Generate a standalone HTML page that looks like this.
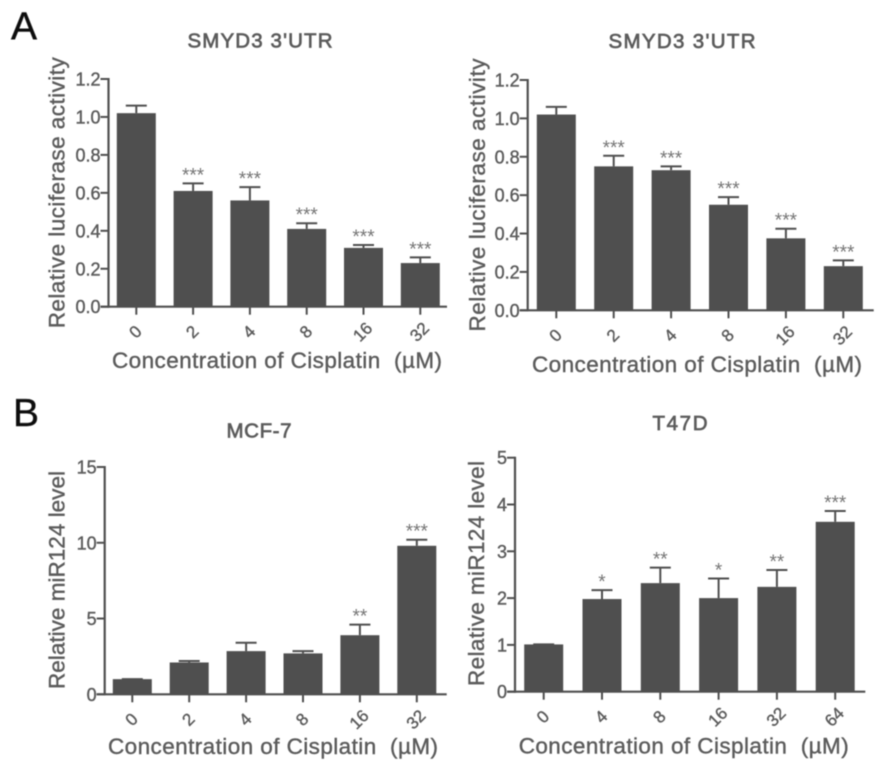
<!DOCTYPE html>
<html>
<head>
<meta charset="utf-8">
<title>Cisplatin bar charts</title>
<style>
html,body{margin:0;padding:0;background:#fff;width:886px;height:772px;overflow:hidden}
svg{display:block}
text{font-family:"Liberation Sans",sans-serif;fill:#5c5c5c;stroke:#5c5c5c;stroke-width:0.4px;white-space:pre}
</style>
</head>
<body>
<svg id="figure" width="886" height="772" viewBox="0 0 886 772" xmlns="http://www.w3.org/2000/svg">
<defs><filter id="soft" x="-5%" y="-5%" width="110%" height="110%"><feGaussianBlur stdDeviation="0.55"/></filter></defs>
<g id="root" filter="url(#soft)"></g>
</svg>
<script>
// Panel A, left
var a1Categories = ['0','2','4','8','16','32'];
var a1Values = [1.02,0.61,0.56,0.41,0.31,0.23];
var a1ErrorTops = [1.06,0.65,0.63,0.44,0.325,0.26];
var a1Stars = ['','***','***','***','***','***'];
var a1Ticks = [0,0.2,0.4,0.6,0.8,1.0,1.2];
var a1TickLabels = ['0.0','0.2','0.4','0.6','0.8','1.0','1.2'];
// Panel A, right
var a2Categories = ['0','2','4','8','16','32'];
var a2Values = [1.02,0.75,0.73,0.55,0.375,0.23];
var a2ErrorTops = [1.06,0.805,0.75,0.59,0.425,0.26];
var a2Stars = ['','***','***','***','***','***'];
var a2Ticks = [0,0.2,0.4,0.6,0.8,1.0,1.2];
var a2TickLabels = ['0.0','0.2','0.4','0.6','0.8','1.0','1.2'];
// Panel B, MCF-7
var b1Categories = ['0','2','4','8','16','32'];
var b1Values = [1,2.1,2.85,2.7,3.9,9.8];
var b1ErrorTops = [1,2.2,3.4,2.85,4.6,10.2];
var b1Stars = ['','','','','**','***'];
var b1Ticks = [0,5,10,15];
var b1TickLabels = ['0','5','10','15'];
// Panel B, T47D
var b2Categories = ['0','4','8','16','32','64'];
var b2Values = [1.01,1.98,2.32,2.0,2.24,3.63];
var b2ErrorTops = [1.01,2.17,2.65,2.42,2.6,3.86];
var b2Stars = ['','*','**','*','**','***'];
var b2Ticks = [0,1,2,3,4,5];
var b2TickLabels = ['0','1','2','3','4','5'];

var NS = 'http://www.w3.org/2000/svg';
var root = document.getElementById('root');
var INK = '#505050';

function make(parent, tag, attrs, content) {
  var node = document.createElementNS(NS, tag);
  for (var key in attrs) node.setAttribute(key, attrs[key]);
  if (content !== undefined) node.textContent = content;
  parent.appendChild(node);
  return node;
}

function drawChart(p) {
  var group = make(root, 'g', {});
  
  

  var yMax = p.ticks[p.ticks.length - 1];
  function yScale(v) { return p.y0 - (v / yMax) * (p.y0 - p.yTop); }
  function xScale(i) { return p.xFirst + i * p.xStep; }

  // bars and error bars
  p.values.forEach(function (value, i) {
    var bar = make(group, 'rect', {
      x: xScale(i) - 19.5, y: yScale(value),
      width: 39, height: p.y0 - yScale(value), fill: INK
    });
    
    

    var stem = make(group, 'line', {
      x1: xScale(i), x2: xScale(i), y1: yScale(value), y2: yScale(p.errorTops[i]),
      stroke: INK, 'stroke-width': 2
    });
    
    

    var cap = make(group, 'line', {
      x1: xScale(i) - 10.5, x2: xScale(i) + 10.5,
      y1: yScale(p.errorTops[i]), y2: yScale(p.errorTops[i]),
      stroke: INK, 'stroke-width': 2
    });
    
    

    if (p.stars[i]) {
      var star = make(group, 'text', {
        x: xScale(i), y: yScale(p.errorTops[i]) - 2,
        'text-anchor': 'middle', 'font-size': 19
      }, p.stars[i]);
      
      
      star.style.fill = '#757575';
      star.style.stroke = 'none';
    }

    var tick = make(group, 'line', {
      x1: xScale(i), x2: xScale(i), y1: p.y0, y2: p.y0 + 8,
      stroke: INK, 'stroke-width': 2
    });
    
    

    var cx = xScale(i) - 1;
    var cy = p.y0 + 25;
    var label = make(group, 'text', {
      x: cx, y: cy + 6, 'text-anchor': 'middle', 'font-size': 17,
      transform: 'rotate(-45 ' + cx + ' ' + cy + ')'
    }, p.categories[i]);
    
    
  });

  // y axis ticks
  p.ticks.forEach(function (t, i) {
    var tick = make(group, 'line', {
      x1: p.axisX - 8, x2: p.axisX, y1: yScale(t), y2: yScale(t),
      stroke: INK, 'stroke-width': 2
    });
    
    

    var label = make(group, 'text', {
      x: p.axisX - 8, y: yScale(t) + 6.5, 'text-anchor': 'end', 'font-size': 18
    }, p.tickLabels[i]);
    
    
  });

  // axes
  var yAxis = make(group, 'line', {
    x1: p.axisX, x2: p.axisX, y1: p.yTop - 1, y2: p.y0 + 1,
    stroke: INK, 'stroke-width': 2.2
  });
  
  

  var xAxis = make(group, 'line', {
    x1: p.axisX - 8, x2: p.xEnd, y1: p.y0, y2: p.y0,
    stroke: INK, 'stroke-width': 2.2
  });
  
  

  // titles
  var title = make(group, 'text', {
    x: p.titleX, y: p.titleY, 'text-anchor': 'middle', 'font-size': 20.5,
    textLength: p.titleLen, lengthAdjust: 'spacing'
  }, p.title);
  
  
  title.style.strokeWidth = '0.7px';

  var xTitle = make(group, 'text', {
    x: p.xTitleX, y: p.xTitleY, 'font-size': 22.5,
    textLength: 330, lengthAdjust: 'spacing'
  }, 'Concentration of Cisplatin  (\u00b5M)');
  
  

  var yTitle = make(group, 'text', {
    x: p.yTitleX, y: p.yTitleMid, 'text-anchor': 'middle', 'font-size': 22.5,
    textLength: p.yTitleLen, lengthAdjust: 'spacing',
    transform: 'rotate(-90 ' + p.yTitleX + ' ' + p.yTitleMid + ')'
  }, p.yTitle);
  
  
}

drawChart({slug:'a-left', categories:a1Categories, values:a1Values, errorTops:a1ErrorTops, stars:a1Stars, ticks:a1Ticks, tickLabels:a1TickLabels,
  axisX:108.5, y0:306.7, yTop:79, xFirst:136.3, xStep:56.8, xEnd:447,
  title:"SMYD3 3'UTR", titleX:260, titleY:47.5, titleLen:145, xTitleX:112, xTitleY:368,
  yTitle:'Relative luciferase activity', yTitleX:64.5, yTitleMid:192.8, yTitleLen:271});
drawChart({slug:'a-right', categories:a2Categories, values:a2Values, errorTops:a2ErrorTops, stars:a2Stars, ticks:a2Ticks, tickLabels:a2TickLabels,
  axisX:527.7, y0:310.3, yTop:80, xFirst:556.3, xStep:57.4, xEnd:873.7,
  title:"SMYD3 3'UTR", titleX:682, titleY:48, titleLen:147, xTitleX:532, xTitleY:372,
  yTitle:'Relative luciferase activity', yTitleX:485, yTitleMid:195, yTitleLen:273});
drawChart({slug:'b-mcf7', categories:b1Categories, values:b1Values, errorTops:b1ErrorTops, stars:b1Stars, ticks:b1Ticks, tickLabels:b1TickLabels,
  axisX:104.7, y0:694.3, yTop:467, xFirst:132.3, xStep:56.9, xEnd:446.7,
  title:'MCF-7', titleX:259, titleY:437.5, titleLen:65, xTitleX:108, xTitleY:754,
  yTitle:'Relative miR124 level', yTitleX:64.5, yTitleMid:580, yTitleLen:218});
drawChart({slug:'b-t47d', categories:b2Categories, values:b2Values, errorTops:b2ErrorTops, stars:b2Stars, ticks:b2Ticks, tickLabels:b2TickLabels,
  axisX:515, y0:691.7, yTop:457.7, xFirst:543.7, xStep:58.3, xEnd:865.3,
  title:'T47D', titleX:680, titleY:430, titleLen:55, xTitleX:518.7, xTitleY:753.7,
  yTitle:'Relative miR124 level', yTitleX:484, yTitleMid:573.5, yTitleLen:225});

var panelA = make(root, 'text', {x: 11, y: 39.5, 'font-size': 39}, 'A');


panelA.style.fill = '#111';
panelA.style.stroke = '#111';

var panelB = make(root, 'text', {x: 13, y: 426, 'font-size': 39}, 'B');


panelB.style.fill = '#111';
panelB.style.stroke = '#111';
</script>
</body>
</html>
